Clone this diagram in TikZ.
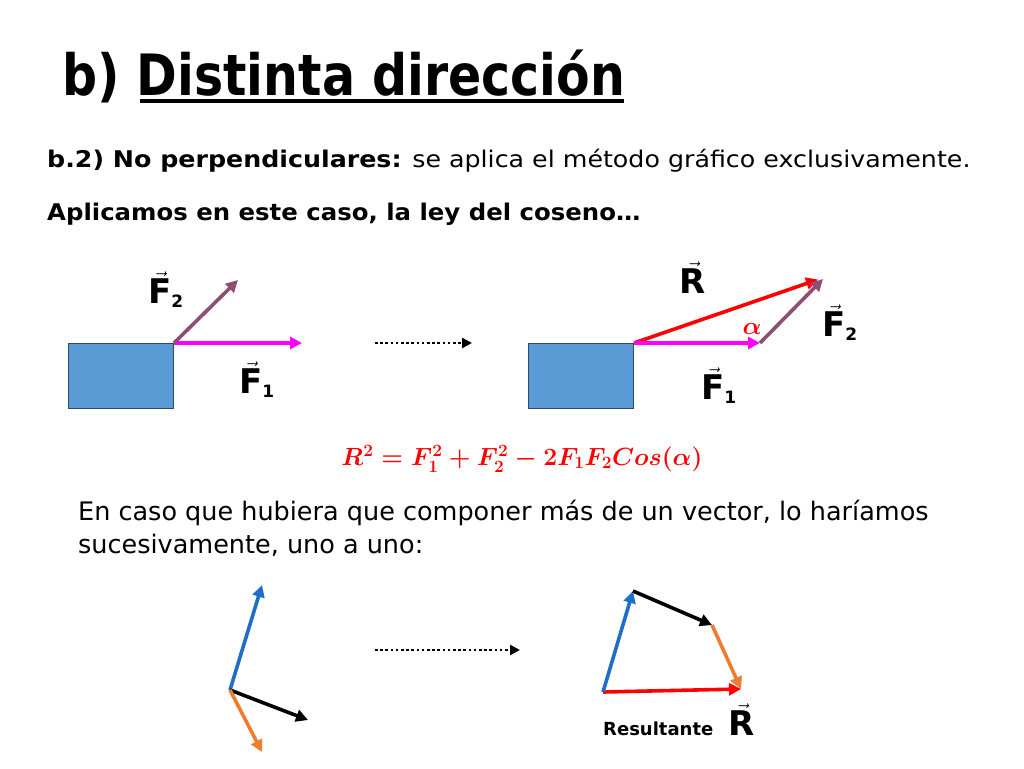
\documentclass[tikz,border=0pt]{standalone}
\usepackage{amsmath}
\usepackage{fontspec}
\setmainfont{DejaVu Sans}
\usetikzlibrary{arrows.meta}
\definecolor{boxblue}{HTML}{5B9BD5}
\definecolor{boxedge}{HTML}{2E4A66}
\definecolor{ftwo}{HTML}{8C4F73}
\definecolor{fone}{HTML}{FF00FF}
\definecolor{rred}{HTML}{FF0000}
\definecolor{vblue}{HTML}{1F6FC8}
\definecolor{vorange}{HTML}{ED7D31}
\tikzset{
  vec/.style={line width=3.6pt,-{Triangle[length=12pt,width=12pt]}},
  dotarrow/.style={line width=2.6pt,dash pattern=on 2.6pt off 2.6pt,-{Triangle[length=10pt,width=10pt]}},
  blk/.style={draw=boxedge,line width=1pt,fill=boxblue},
  lab/.style={inner sep=0pt,font=\fontsize{34}{34}\selectfont\bfseries},
  txt/.style={anchor=base west,inner sep=0pt},
}
\newcommand{\vlab}[2]{$\vec{\text{\bfseries #1}}_{\text{\fontsize{17}{17}\selectfont\bfseries #2}}$}
\newcommand{\vlabR}{$\vec{\text{\bfseries R}}$}
\begin{document}
\begin{tikzpicture}[x=1pt,y=-1pt]
\useasboundingbox (0,0) rectangle (1024,768);
% title
\node[txt,font=\fontsize{57}{57}\selectfont\bfseries] (title) at (62,95) {\scalebox{0.86}[1]{b)\ Distinta dirección}};
\coordinate (ul1) at (140,101);
\coordinate (ul2) at (624,101);
\draw[line width=3.5pt] (ul1) -- (ul2);
\node[txt,font=\fontsize{23}{23}\selectfont] (l1) at (47,167) {\scalebox{1.10}[1]{\textbf{b.2) No perpendiculares:} se aplica el método gráfico exclusivamente.}};
\node[txt,font=\fontsize{23}{23}\selectfont\bfseries] (l2) at (47,220) {\scalebox{1.06}[1]{Aplicamos en este caso, la ley del coseno…}};
% left diagram
\node[blk,minimum width=105pt,minimum height=65pt,inner sep=0pt,anchor=north west] (b1) at (68,343) {};
\coordinate (o1) at (b1.north east);
\coordinate (f1e) at (302,343);
\coordinate (f2e) at (238,280);
\draw[vec,fone] (o1) -- (f1e);
\draw[vec,ftwo] (o1) -- (f2e);
\node[lab] (lf2) at (166,290) {\vlab{F}{2}};
\node[lab] (lf1) at (257,380) {\vlab{F}{1}};
\coordinate (d1s) at (375,343);
\coordinate (d1e) at (472,343);
\draw[dotarrow] (d1s) -- (d1e);
% right diagram
\node[blk,minimum width=105pt,minimum height=65pt,inner sep=0pt,anchor=north west] (b2) at (528,343) {};
\coordinate (o2) at (b2.north east);
\coordinate (p1) at (760,343);
\coordinate (p2) at (823,279);
\coordinate (rt) at (818,279.5);
\draw[vec,rred] (o2) -- (rt);
\draw[vec,fone] (o2) -- (p1);
\draw[vec,ftwo] (p1) -- (p2);
\node[lab] (lr) at (693,278) {\vlabR};
\node[lab] (lf2b) at (840,323) {\vlab{F}{2}};
\node[lab] (lf1b) at (719,386) {\vlab{F}{1}};
\node[inner sep=0pt,text=rred,font=\fontsize{24}{24}\selectfont\mathversion{bold}] (al) at (752,329) {$\alpha$};
% equation
\node[inner sep=0pt,text=rred,font=\fontsize{23.5}{23.5}\selectfont\mathversion{bold}] (eq) at (522,459) {$R^2 = F_1^2 + F_2^2 - 2F_1F_2Cos(\alpha)$};
% paragraph
\node[txt,font=\fontsize{25.5}{25.5}\selectfont] (p1t) at (78,520) {En caso que hubiera que componer más de un vector, lo haríamos};
\node[txt,font=\fontsize{25.5}{25.5}\selectfont] (p2t) at (78,553) {sucesivamente, uno a uno:};
% bottom left
\coordinate (q) at (230,690);
\coordinate (qa) at (262,585);
\coordinate (qb) at (308,720);
\coordinate (qc) at (262,752);
\draw[vec,vblue] (q) -- (qa);
\draw[vec,black] (q) -- (qb);
\draw[vec,vorange] (q) -- (qc);
\coordinate (d2s) at (375,650);
\coordinate (d2e) at (520,650);
\draw[dotarrow] (d2s) -- (d2e);
% bottom right
\coordinate (r0) at (603,692);
\coordinate (r1) at (633,591);
\coordinate (r2) at (712,625);
\coordinate (r3) at (741,689);
\draw[vec,rred] (r0) -- (r3);
\draw[vec,vblue] (r0) -- (r1);
\draw[vec,black] (r1) -- (r2);
\draw[vec,vorange] (r2) -- (r3);
\node[txt,font=\fontsize{18}{18}\selectfont\bfseries] (res) at (603,735) {Resultante};
\node[lab] (lr2) at (742,720) {\vlabR};
\end{tikzpicture}
\end{document}
